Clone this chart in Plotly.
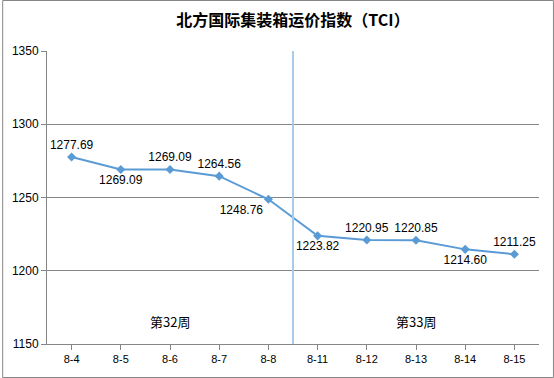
import plotly.graph_objects as go

categories = ["8-4", "8-5", "8-6", "8-7", "8-8", "8-11", "8-12", "8-13", "8-14", "8-15"]
values = [1277.69, 1269.09, 1269.09, 1264.56, 1248.76, 1223.82, 1220.95, 1220.85, 1214.60, 1211.25]
label_pos = ["top center", "bottom center", "top center", "top center", "bottom left",
             "bottom center", "top center", "top center", "bottom center", "top center"]
week_labels = ["第32周", "第33周"]
week_centers = [2, 7]
title = "北方国际集装箱运价指数（TCI）"

W, H = 554, 378
L, R, T, B = 45, 15, 51, 34
pw, ph = W - L - R, H - T - B

font_fam = "Liberation Sans, Noto Sans CJK SC, sans-serif"

fig = go.Figure()
fig.add_trace(go.Scatter(
    x=list(range(len(categories))), y=values,
    mode="lines+markers+text",
    line=dict(color="#5B9BD5", width=2),
    marker=dict(symbol="diamond", size=7, color="#5B9BD5"),
    text=[f"{v:.2f}" for v in values],
    textposition=label_pos,
    textfont=dict(size=12, color="#000000", family=font_fam),
    cliponaxis=False,
    showlegend=False,
))

# week separator
fig.add_shape(type="line", xref="x", yref="paper", x0=4.5, x1=4.5, y0=0, y1=1,
              line=dict(color="#A9CBEA", width=2))

for lab, c in zip(week_labels, week_centers):
    fig.add_annotation(x=c, y=1165.5, xref="x", yref="y", text=lab, showarrow=False,
                       font=dict(size=13, color="#000000", family="Noto Sans CJK SC"))

# outer border
fig.add_shape(type="rect", xref="paper", yref="paper",
              x0=(0.5 - L) / pw, x1=(W - 0.5 - L) / pw,
              y0=(0.5 - B) / ph, y1=(H - 0.5 - B) / ph,
              line=dict(color="#868686", width=1))

fig.update_layout(
    width=W, height=H,
    margin=dict(l=L, r=R, t=T, b=B),
    paper_bgcolor="white", plot_bgcolor="white",
    title=dict(text="<b>" + title + "</b>", x=0.5, xref="paper", y=1 - 20 / H, yanchor="middle",
               font=dict(size=16, color="#000000", family="Noto Sans CJK SC")),
    font=dict(family=font_fam, size=11, color="#000000"),
    xaxis=dict(
        range=[-0.5, 9.5], tickmode="array", tickvals=list(range(len(categories))),
        ticktext=categories, showgrid=False, showline=True, linecolor="#868686",
        linewidth=1, ticks="outside", tickson="boundaries", ticklen=5, tickcolor="#868686",
        zeroline=False, tickfont=dict(size=11),
    ),
    yaxis=dict(
        range=[1150, 1350], tickmode="array", tickvals=[1150, 1200, 1250, 1300, 1350],
        showgrid=True, gridcolor="#868686", gridwidth=1, showline=True,
        linecolor="#868686", ticks="outside", ticklen=5, tickcolor="#868686",
        zeroline=False, tickfont=dict(size=12),
    ),
)

fig.write_html("out.html", config={"displayModeBar": False},
               post_script="document.body.style.margin='0';")
